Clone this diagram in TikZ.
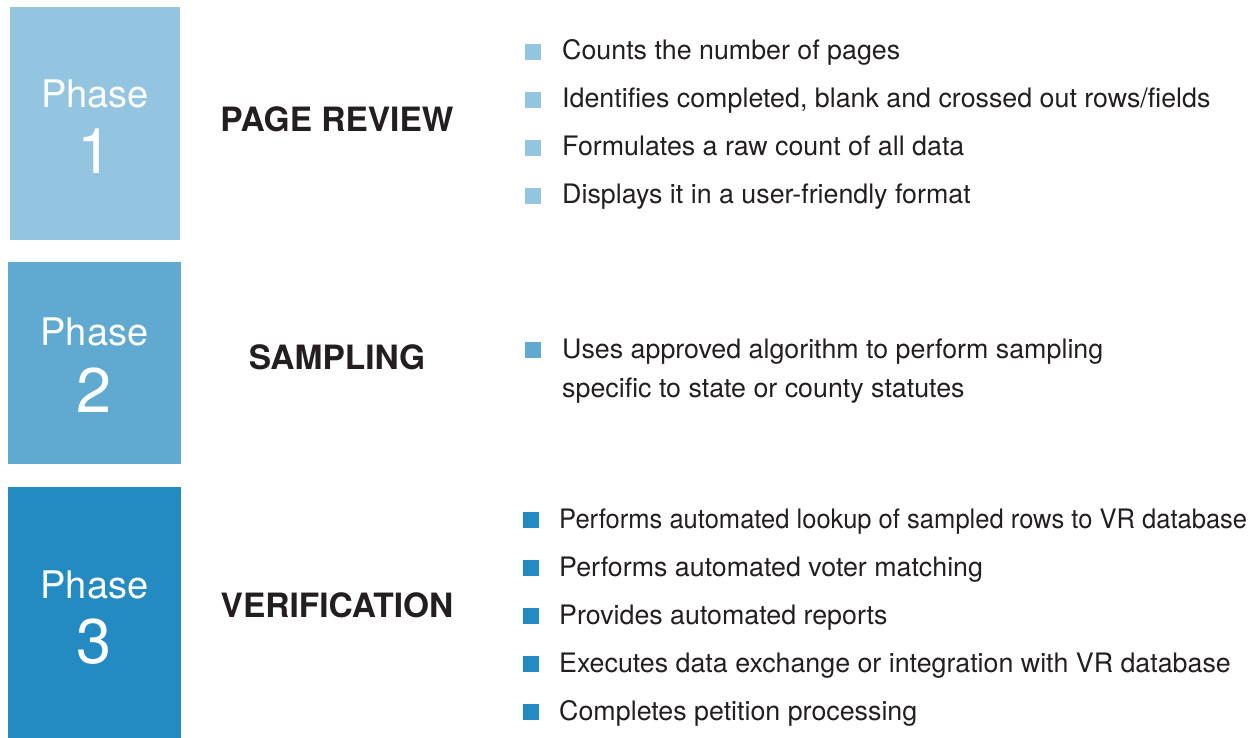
\documentclass[tikz,border=0pt]{standalone}
\usepackage{fontspec}
\setmainfont{TeX Gyre Heros}
\usetikzlibrary{positioning}
\definecolor{phaseA}{HTML}{93C5E1}
\definecolor{phaseB}{HTML}{60AAD2}
\definecolor{phaseC}{HTML}{248BC2}
\definecolor{txtgray}{HTML}{231F20}
\tikzset{
  phasebox/.style={rectangle, inner sep=0, outer sep=0, minimum width=173pt},
  phaseword/.style={anchor=base, inner sep=0, text=white, font=\fontsize{38}{40}\selectfont},
  phasenum/.style={anchor=base, inner sep=0, text=white, font=\fontsize{63}{65}\selectfont},
  title/.style={anchor=base, inner sep=0, text=txtgray, font=\bfseries\fontsize{33.5}{35}\selectfont},
  sq/.style={rectangle, inner sep=0, outer sep=0, minimum size=16pt},
  item/.style={anchor=base west, inner sep=0, text=txtgray, font=\fontsize{26.8}{28}\selectfont}
}
\newcommand{\drawsq}{\node[sq]}
\newcommand{\drawitem}{\node[item]}

\begin{document}
\begin{tikzpicture}[x=1pt,y=-1pt]
	\useasboundingbox (0,0) rectangle (1256,738);

	% phase 1
	\node[phasebox, fill=phaseA, minimum width=170pt, minimum height=233pt] (ph1) at (95,124) {};
	\node[phaseword] (ph1w) at (95,108) {Phase};
	\node[phasenum] (ph1n) at (95,174) {1};
	\node[title] (ti1) at (337,132) {PAGE REVIEW};

	\drawsq[fill=phaseA] (b11) at (533,52) {};
	\drawsq[fill=phaseA] (b12) at (533,100) {};
	\drawsq[fill=phaseA] (b13) at (533,148) {};
	\drawsq[fill=phaseA] (b14) at (533,196) {};
	\drawitem (t11) at (562,60) {Counts the number of pages};
	\drawitem (t12) at (562,108) {Identifies completed, blank and crossed out rows/fields};
	\drawitem (t13) at (562,156) {Formulates a raw count of all data};
	\drawitem (t14) at (562,204) {Displays it in a user-friendly format};

	% phase 2
	\node[phasebox, fill=phaseB, minimum height=202pt] (ph2) at (94.5,363) {};
	\node[phaseword] (ph2w) at (94.5,345) {Phase};
	\node[phasenum] (ph2n) at (94.5,412) {2};
	\node[title] (ti2) at (337,369) {SAMPLING};

	\drawsq[fill=phaseB] (b21) at (533,350) {};
	\drawitem (t21) at (562,358) {Uses approved algorithm to perform sampling};
	\drawitem (t22) at (562,397) {specific to state or county statutes};

	% phase 3
	\node[phasebox, fill=phaseC, minimum height=251pt] (ph3) at (94.5,612.5) {};
	\node[phaseword] (ph3w) at (94.5,598) {Phase};
	\node[phasenum] (ph3n) at (94.5,663) {3};
	\node[title] (ti3) at (337,617) {VERIFICATION};

	\drawsq[fill=phaseC] (b31) at (531,520) {};
	\drawsq[fill=phaseC] (b32) at (531,568) {};
	\drawsq[fill=phaseC] (b33) at (531,616) {};
	\drawsq[fill=phaseC] (b34) at (531,664) {};
	\drawsq[fill=phaseC] (b35) at (531,712) {};
	\drawitem (t31) at (559,528) {\scalebox{0.953}[1]{Performs automated lookup of sampled rows to VR database}};
	\drawitem (t32) at (559,576) {Performs automated voter matching};
	\drawitem (t33) at (559,624) {Provides automated reports};
	\drawitem (t34) at (559,672) {Executes data exchange or integration with VR database};
	\drawitem (t35) at (559,720) {Completes petition processing};

\end{tikzpicture}
\end{document}
